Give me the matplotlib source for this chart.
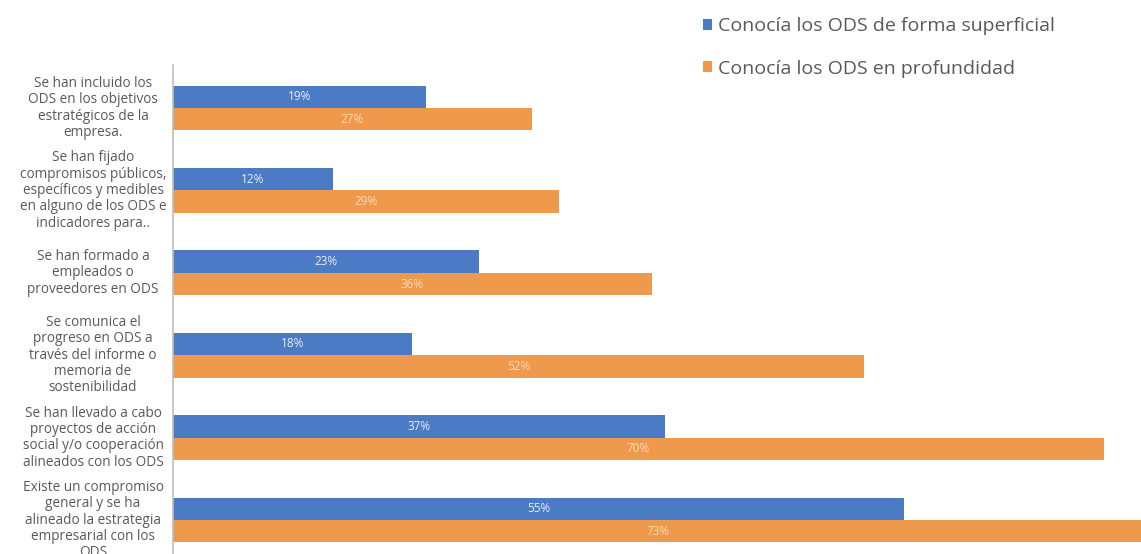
import matplotlib
matplotlib.use("Agg")
import matplotlib.pyplot as plt
import numpy as np
from matplotlib.patches import Patch

categories = [
    "Se han incluido los\nODS en los objetivos\nestratégicos de la\nempresa.",
    "Se han fijado\ncompromisos públicos,\nespecíficos y medibles\nen alguno de los ODS e\nindicadores para..",
    "Se han formado a\nempleados o\nproveedores en ODS",
    "Se comunica el\nprogreso en ODS a\ntravés del informe o\nmemoria de\nsostenibilidad",
    "Se han llevado a cabo\nproyectos de acción\nsocial y/o cooperación\nalineados con los ODS",
    "Existe un compromiso\ngeneral y se ha\nalineado la estrategia\nempresarial con los\nODS",
]
superficial = [19, 12, 23, 18, 37, 55]
profundidad = [27, 29, 36, 52, 70, 73]
series_names = ["Conocía los ODS de forma superficial", "Conocía los ODS en profundidad"]

blue = "#4a7bc4"
orange = "#ef994d"

plt.rcParams['font.family'] = ['Open Sans', 'DejaVu Sans']

W, H = 1141, 554
fig = plt.figure(figsize=(W / 100, H / 100), dpi=100)
ax_left = 173 / W
ax_top = 1 - 65 / H
ax = fig.add_axes([ax_left, 0.0, 1.0 - ax_left, ax_top])

n = len(categories)
y = np.arange(n)
h = 0.273
ax.barh(y - h / 2, superficial, height=h, color=blue, label=series_names[0])
ax.barh(y + h / 2, profundidad, height=h, color=orange, label=series_names[1])

for i in range(n):
    ax.text(superficial[i] / 2, y[i] - h / 2, f"{superficial[i]}%", ha="center", va="center",
            color="#e8eef8", fontsize=8.5)
    ax.text(profundidad[i] / 2, y[i] + h / 2, f"{profundidad[i]}%", ha="center", va="center",
            color="#fbd9b8", fontsize=8.5)

ax.set_xlim(0, 72.8)
ax.set_ylim(n - 1 + 34 / 82.4, -43 / 82.4)
ax.set_xticks([])
ax.set_yticks(y)
ax.set_yticklabels([])
ax.tick_params(axis="y", length=0)
for s in ["top", "right", "bottom"]:
    ax.spines[s].set_visible(False)
ax.spines["left"].set_color("#bfbfbf")
ax.spines["left"].set_linewidth(1.2)

for i in range(n):
    ax.text(-80 / 13.3, y[i], categories[i], ha="center", va="center", fontsize=9.8,
            color="#595959", linespacing=1.12, transform=ax.transData, clip_on=False)

handles = [Patch(facecolor=blue), Patch(facecolor=orange)]
fig.legend(handles, series_names, loc="upper left", bbox_to_anchor=(685 / W, 1 - 0 / H),
           frameon=False, fontsize=14, handlelength=0.5, handleheight=0.5,
           handletextpad=0.3, labelspacing=1.25, labelcolor="#595959")

fig.savefig("out.png", dpi=100)
